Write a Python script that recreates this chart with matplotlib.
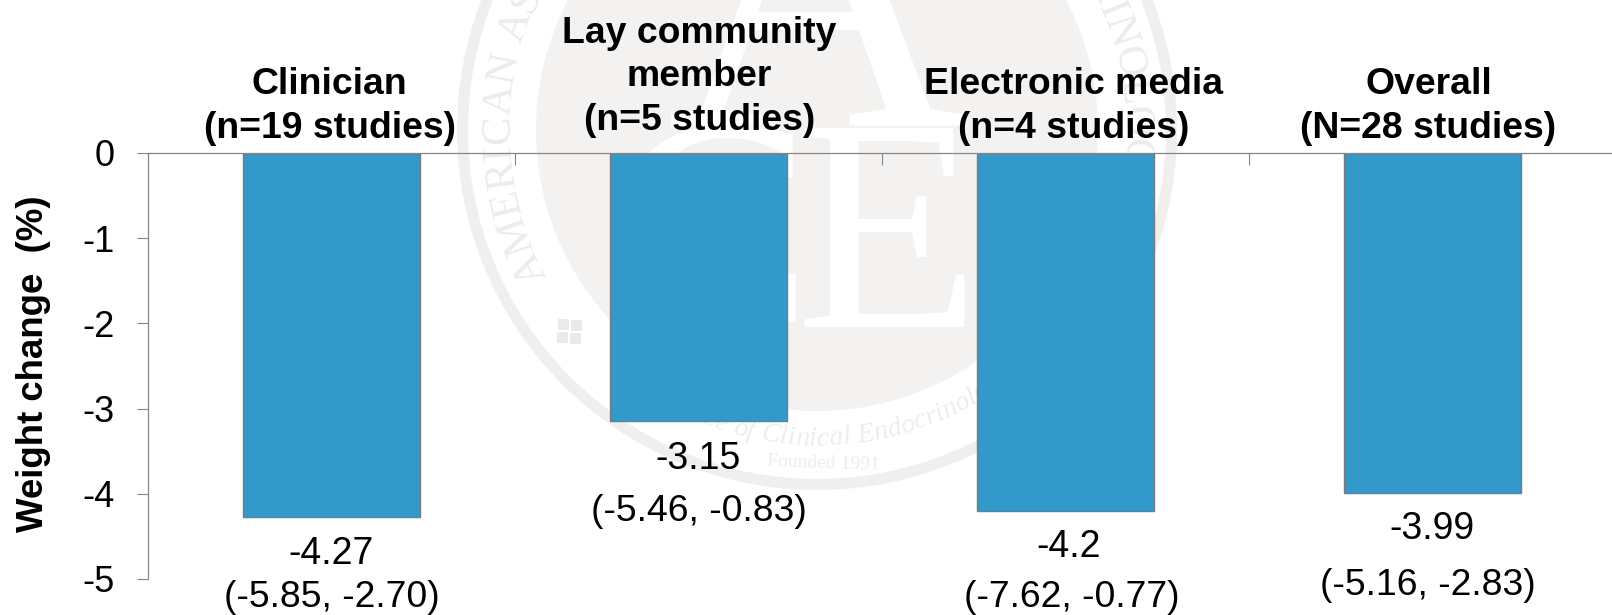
import numpy as np
import matplotlib
matplotlib.use('Agg')
import matplotlib.pyplot as plt
from matplotlib.font_manager import FontProperties
from matplotlib.patches import Circle, Wedge, Rectangle

plt.rcParams['font.family'] = ['Liberation Sans', 'DejaVu Sans']

categories = ['Clinician\n(n=19 studies)', 'Lay community\nmember\n(n=5 studies)',
              'Electronic media\n(n=4 studies)', 'Overall\n(N=28 studies)']
values = [-4.27, -3.15, -4.2, -3.99]
value_labels = ['-4.27', '-3.15', '-4.2', '-3.99']
ci_labels = ['(-5.85, -2.70)', '(-5.46, -0.83)', '(-7.62, -0.77)', '(-5.16, -2.83)']
yticks = [0, -1, -2, -3, -4, -5]

W, H = 1612, 615
GREY = '#f3f2f1'
LINE = '#868686'
SERIF = 'Liberation Serif'

fig = plt.figure(figsize=(W / 100, H / 100), dpi=100, facecolor='white')
renderer = fig.canvas.get_renderer()


def advances(text, prop, pad=1):
    # width of each char in pixels, spaces measured by hand
    out = []
    for ch in text:
        if ch == ' ':
            out.append(prop.get_size_in_points() * 100 / 72 * 0.25)
        else:
            out.append(renderer.get_text_width_height_descent(ch, prop, False)[0] + pad)
    return np.array(out)


# watermark, in pixel coords
bg = fig.add_axes([0, 0, 1, 1], zorder=0)
bg.set_xlim(0, W)
bg.set_ylim(H, 0)
bg.axis('off')
cx, cy = 817, 130
bg.add_patch(Wedge((cx, cy), 360, 0, 360, width=11, color='#f0efee', lw=0))
bg.add_patch(Circle((cx, cy), 281, color=GREY, lw=0))
bg.text(cx, 125, 'A', family=SERIF, fontsize=300, color='white', ha='center', va='baseline')
bg.text(712, 327, 'C', family=SERIF, fontsize=218, color='white', ha='center', va='baseline')
bg.text(888, 327, 'E', family=SERIF, fontsize=218, color='white', ha='center', va='baseline')

ring = 'AMERICAN ASSOCIATION OF CLINICAL ENDOCRINOLOGISTS'
ring_fp = FontProperties(family=SERIF, size=31)
adv = advances(ring, ring_fp)
pos = np.cumsum(adv) - adv / 2
for ch, p in zip(ring, pos):
    th = -28.5 + np.degrees(p / 318)
    t = np.radians(th)
    bg.text(cx - 318 * np.cos(t), cy - 318 * np.sin(t), ch, fontproperties=ring_fp,
            color='#edeceb', ha='center', va='center', rotation=90 - th, rotation_mode='anchor')

motto = 'ce of Clinical Endocrinology'
motto_fp = FontProperties(family=SERIF, style='italic', size=20)
adv = advances(motto, motto_fp, pad=0)
pos = np.cumsum(adv) - adv / 2
pos = pos - pos[motto.index('C')]
for ch, p in zip(motto, pos):
    phi = -8.7 + np.degrees(p / 309)
    t = np.radians(phi)
    bg.text(cx + 309 * np.sin(t), cy + 309 * np.cos(t), ch, fontproperties=motto_fp,
            color='#eeedec', ha='center', va='center', rotation=phi, rotation_mode='anchor')
bg.text(823, 463, 'Founded 1991', family=SERIF, fontsize=14, color='#eeedec',
        ha='center', va='center', rotation=-2)
for x0, y0 in [(558, 319), (571, 320), (557, 332), (570, 333)]:
    bg.add_patch(Rectangle((x0, y0), 11, 11, color='#eaeaea', lw=0))

# chart
ax = fig.add_axes([148 / W, (H - 579) / H, 1468 / W, 426 / H], zorder=1)
ax.patch.set_alpha(0)
x = np.arange(len(values))
ax.bar(x, values, width=0.48, color='#3399ca', edgecolor='#7a7a7a', linewidth=1)
ax.set_xlim(-0.5, 3.5)
ax.set_ylim(-5, 0)

for s in ['right', 'bottom']:
    ax.spines[s].set_visible(False)
for s in ['left', 'top']:
    ax.spines[s].set_color(LINE)
    ax.spines[s].set_linewidth(0.9)

ax.xaxis.tick_top()
ax.set_xticks(x[:-1] + 0.5)
ax.set_xticklabels([])
ax.tick_params(axis='x', direction='in', length=8.5, width=0.8, color=LINE)
ax.set_yticks(yticks)
ax.set_yticklabels([str(v) for v in yticks], fontsize=26)
ax.tick_params(axis='y', direction='out', length=8, width=0.8, color=LINE, pad=16)

fig.text(34 / W, 1 - 364 / H, 'Weight change  (%)', fontsize=26.4, fontweight='bold', rotation=90,
         ha='center', va='center')

# pixel offsets from the bar end / zero line
cat_dx = [-2, 1, 8, -4]
cat_dy = [15, 23, 15, 15]
val_dx = [-1, 0, 3, -1]
val_dy = [-47, -48, -46, -46]
ci_dx = [0, 0, 6, -5]
ci_dy = [-90, -100, -96, -102]

for i, v in enumerate(values):
    ax.annotate(categories[i], (i, 0), xytext=(cat_dx[i], cat_dy[i]), textcoords='offset pixels',
                ha='center', va='baseline', multialignment='center', fontsize=26.9,
                fontweight='bold', linespacing=1.32, annotation_clip=False)
    ax.annotate(value_labels[i], (i, v), xytext=(val_dx[i], val_dy[i]), textcoords='offset pixels',
                ha='center', va='baseline', fontsize=27, annotation_clip=False)
    ax.annotate(ci_labels[i], (i, v), xytext=(ci_dx[i], ci_dy[i]), textcoords='offset pixels',
                ha='center', va='baseline', fontsize=26.9, annotation_clip=False)

fig.savefig('out.png', dpi=100)
